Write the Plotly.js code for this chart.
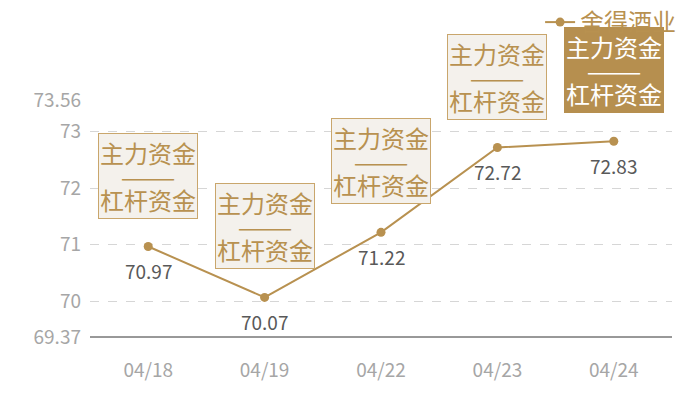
<!DOCTYPE html>
<html>
<head>
<meta charset="utf-8">
<script src="https://cdn.plot.ly/plotly-3.0.1.min.js"></script>
<style>html,body{margin:0;padding:0;background:#fff;}#chart{width:700px;height:400px;}</style>
</head>
<body>
<div id="chart"></div>
<script>
var seriesName = '舍得酒业';
var dates = ['04/18', '04/19', '04/22', '04/23', '04/24'];
var values = [70.97, 70.07, 71.22, 72.72, 72.83];
var tickVals = [69.37, 70, 71, 72, 73, 73.56];
var tickText = ['69.37', '70', '71', '72', '73', '73.56'];
var boxTop = '主力资金';
var boxSep = '———';
var boxBottom = '杠杆资金';

var gold = '#b89150';
var font = 'Noto Sans CJK SC, Noto Sans, sans-serif';

var boxText = '<span style="font-size:24px">' + boxTop + '</span><br>' +
  '<span style="font-size:22px">' + boxSep + '</span><br>' +
  '<span style="font-size:24px">' + boxBottom + '</span>';

var annotations = [];
dates.forEach(function (d, i) {
  var last = i === dates.length - 1;
  annotations.push({
    x: d, y: values[i], xref: 'x', yref: 'y',
    text: boxText,
    showarrow: false, yanchor: 'bottom', yshift: 28,
    align: 'center',
    font: {family: font, size: 18, color: last ? '#ffffff' : gold},
    bgcolor: last ? '#b68f4f' : '#f4f1ec',
    bordercolor: last ? '#b68f4f' : '#c9a66c',
    borderwidth: 1, borderpad: 1
  });
  annotations.push({
    x: d, y: values[i], xref: 'x', yref: 'y',
    text: values[i].toFixed(2),
    showarrow: false, yanchor: 'middle', yshift: -24,
    font: {family: font, size: 19, color: '#595959'}
  });
});

var trace = {
  type: 'scatter', mode: 'lines+markers',
  name: seriesName, x: dates, y: values,
  line: {color: gold, width: 2},
  marker: {color: gold, size: 9},
  cliponaxis: false
};

var layout = {
  width: 700, height: 400,
  margin: {l: 90, r: 28, t: 100, b: 63, autoexpand: false},
  paper_bgcolor: '#fff', plot_bgcolor: '#fff',
  font: {family: font},
  showlegend: true,
  legend: {
    xref: 'container', yref: 'container',
    x: 0.973, xanchor: 'right', y: 1, yanchor: 'top',
    orientation: 'h', bgcolor: 'rgba(0,0,0,0)',
    itemwidth: 30,
    font: {family: font, size: 24, color: gold}
  },
  xaxis: {
    type: 'category', range: [-0.5, 4.5],
    showgrid: false, zeroline: false,
    showline: false, ticks: '',
    tickfont: {family: font, size: 19, color: '#a6a6a6'},
    ticklabelstandoff: 20, fixedrange: true
  },
  yaxis: {
    range: [69.37, 73.56],
    tickmode: 'array', tickvals: tickVals, ticktext: tickText,
    showgrid: true, gridcolor: '#d6d6d6', griddash: 'dash', gridwidth: 1,
    zeroline: false, showline: false, ticks: '',
    tickfont: {family: font, size: 19, color: '#a6a6a6'},
    ticklabelstandoff: 8, fixedrange: true
  },
  shapes: [{
    type: 'line', xref: 'paper', yref: 'paper', x0: 0, x1: 1, y0: 0, y1: 0,
    line: {color: '#333333', width: 1}
  }],
  annotations: annotations
};

Plotly.newPlot('chart', [trace], layout, {displayModeBar: false, staticPlot: true}).then(function (gd) {
  // draw the legend above the annotation boxes so its text is not covered
  var lg = gd.querySelector('.infolayer .legend');
  if (lg && lg.parentNode) lg.parentNode.appendChild(lg);
});
</script>
</body>
</html>
